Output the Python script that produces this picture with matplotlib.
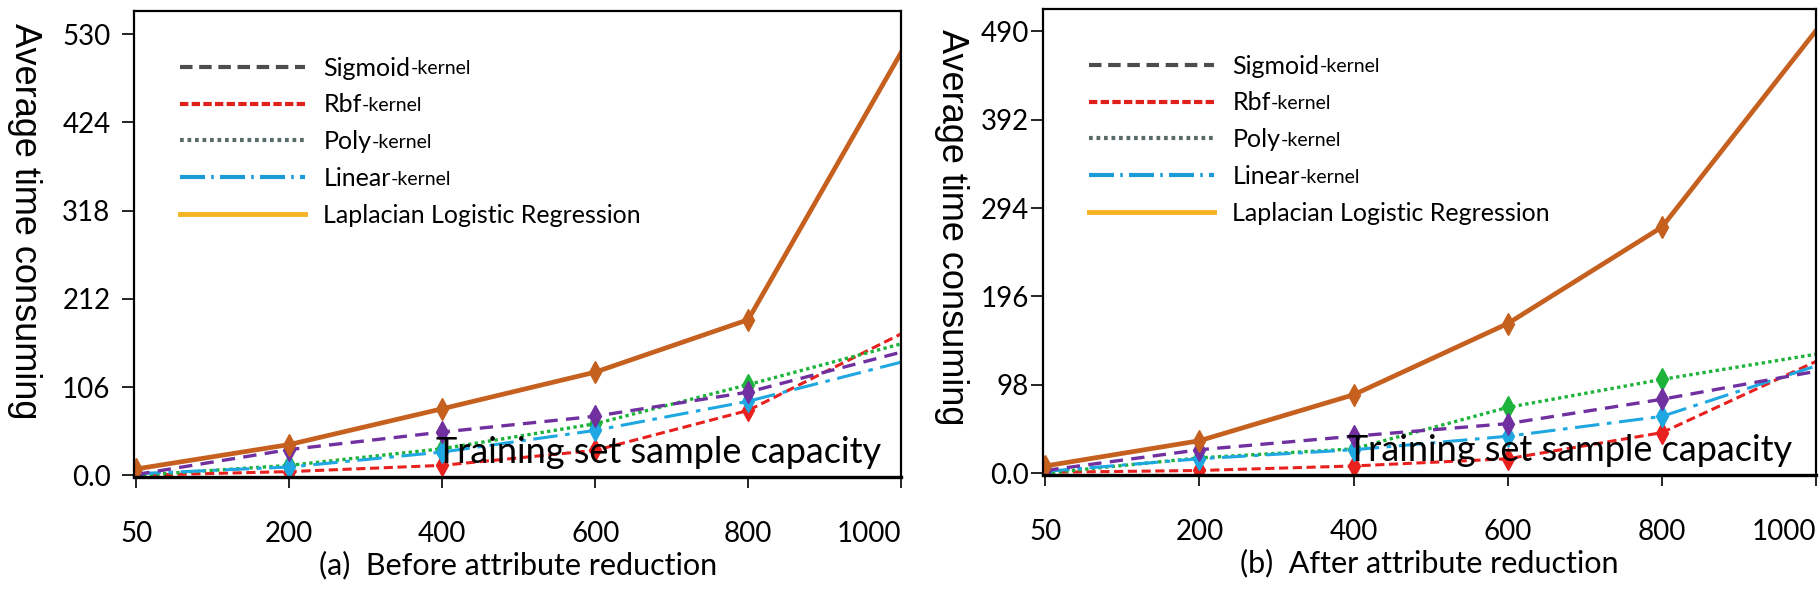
import matplotlib
matplotlib.use("Agg")
import matplotlib.pyplot as plt
from matplotlib.lines import Line2D

# sample sizes on the x axis (equally spaced categories)
sizes = ["50", "200", "400", "600", "800", "1000"]

# (a) before attribute reduction
before_sigmoid = [1, 31, 52, 71, 100, 148]
before_rbf = [0, 4.5, 12, 30, 78, 170]
before_poly = [0, 12, 32, 62, 109, 158]
before_linear = [2, 10, 28, 54, 89, 136]
before_llr = [7.7, 37, 80, 124, 187, 508]
before_yticks = [0, 106, 212, 318, 424, 530]

# (b) after attribute reduction
after_sigmoid = [3, 26, 41, 55, 82, 113]
after_rbf = [1, 3, 8, 16, 45, 124]
after_poly = [0, 17, 27, 73, 104, 132]
after_linear = [2, 16, 26, 41, 63, 119]
after_llr = [8, 36, 87, 166, 273, 491]
after_yticks = [0, 98, 196, 294, 392, 490]

legend_names = ["Sigmoid", "Rbf", "Poly", "Linear", "Laplacian Logistic Regression"]

TICKFONT = "Lato"

fig = plt.figure(figsize=(18.19, 5.93), dpi=100)


def panel(rect, sig, rbf, poly, lin, llr, yticks, ytop, caption, ypad):
    ax = fig.add_axes(rect)
    x = list(range(len(sizes)))
    mk = dict(marker="d", markersize=11, markevery=[0, 1, 2, 3, 4])
    ax.plot(x, rbf, color="#E8201E", lw=2.2, ls=(0, (3, 1.5)), **mk)
    ax.plot(x, poly, color="#1DB33A", lw=2.4, ls=(0, (1, 1)), **mk)
    ax.plot(x, lin, color="#1EA7E1", lw=2.2, ls=(0, (8, 2.5, 1.5, 2.5)), **mk)
    ax.plot(x, sig, color="#7030A0", lw=2.4, ls=(0, (4, 2.5)), **mk)
    ax.plot(x, llr, color="#C5601F", lw=3.4, ls="-", **mk)

    ax.set_xlim(-0.015, 5)
    ax.set_ylim(-2, ytop)
    ax.set_xticks(x)
    ax.set_xticklabels(sizes, fontsize=20, family=TICKFONT)
    ax.get_xticklabels()[-1].set_ha("right")
    ax.set_yticks(yticks)
    ax.set_yticklabels(["0.0"] + [str(v) for v in yticks[1:]], fontsize=20, family=TICKFONT)
    ax.tick_params(axis="x", direction="out", length=8, width=1.2, pad=24)
    ax.tick_params(axis="y", direction="out", length=9, width=1.2, pad=ypad)
    for s in ax.spines.values():
        s.set_linewidth(1.6)
    ax.spines["bottom"].set_linewidth(2.4)

    handles = [
        Line2D([], [], color="#4D4D4D", lw=3, ls=(0, (3, 1.6))),
        Line2D([], [], color="#E0201B", lw=3, ls=(0, (2, 0.8))),
        Line2D([], [], color="#5A6B6B", lw=3, ls=(0, (0.9, 0.9))),
        Line2D([], [], color="#1A9AD6", lw=3, ls=(0, (6, 1.5, 0.6, 1.5))),
        Line2D([], [], color="#F5B324", lw=3.5, ls="-"),
    ]
    leg = ax.legend(handles, legend_names, loc="upper left", bbox_to_anchor=(0.03, 0.95),
                    frameon=False, handlelength=5.0, handletextpad=0.75, labelspacing=0.55,
                    prop={"family": TICKFONT, "size": 18})
    for t in leg.get_texts()[:4]:
        ax.annotate("-kernel", xy=(1, 0.1), xycoords=t, va="bottom", ha="left",
                    fontsize=14, family=TICKFONT, zorder=10)

    ax.text(0.393, 0.052, "Training set sample capacity", transform=ax.transAxes,
            ha="left", va="center", fontsize=26, family=TICKFONT)
    ax.text(0.5, -0.19, caption, transform=ax.transAxes, ha="center", va="center",
            fontsize=22, family=TICKFONT)
    return ax


ax1 = panel([0.0737, 0.1956, 0.4217, 0.786], before_sigmoid, before_rbf, before_poly,
            before_linear, before_llr, before_yticks, 558, "(a)  Before attribute reduction", 8)
ax2 = panel([0.5734, 0.199, 0.425, 0.786], after_sigmoid, after_rbf, after_poly,
            after_linear, after_llr, after_yticks, 515, "(b)  After attribute reduction", 1)

fig.text(24 / 1819, 1 - 221 / 593, "Average time consuming", rotation=270,
         ha="center", va="center", fontsize=26, family="Liberation Sans")
fig.text(952 / 1819, 1 - 227 / 593, "Average time consuming", rotation=270,
         ha="center", va="center", fontsize=26, family="Liberation Sans")

fig.savefig("out.png", dpi=100)
